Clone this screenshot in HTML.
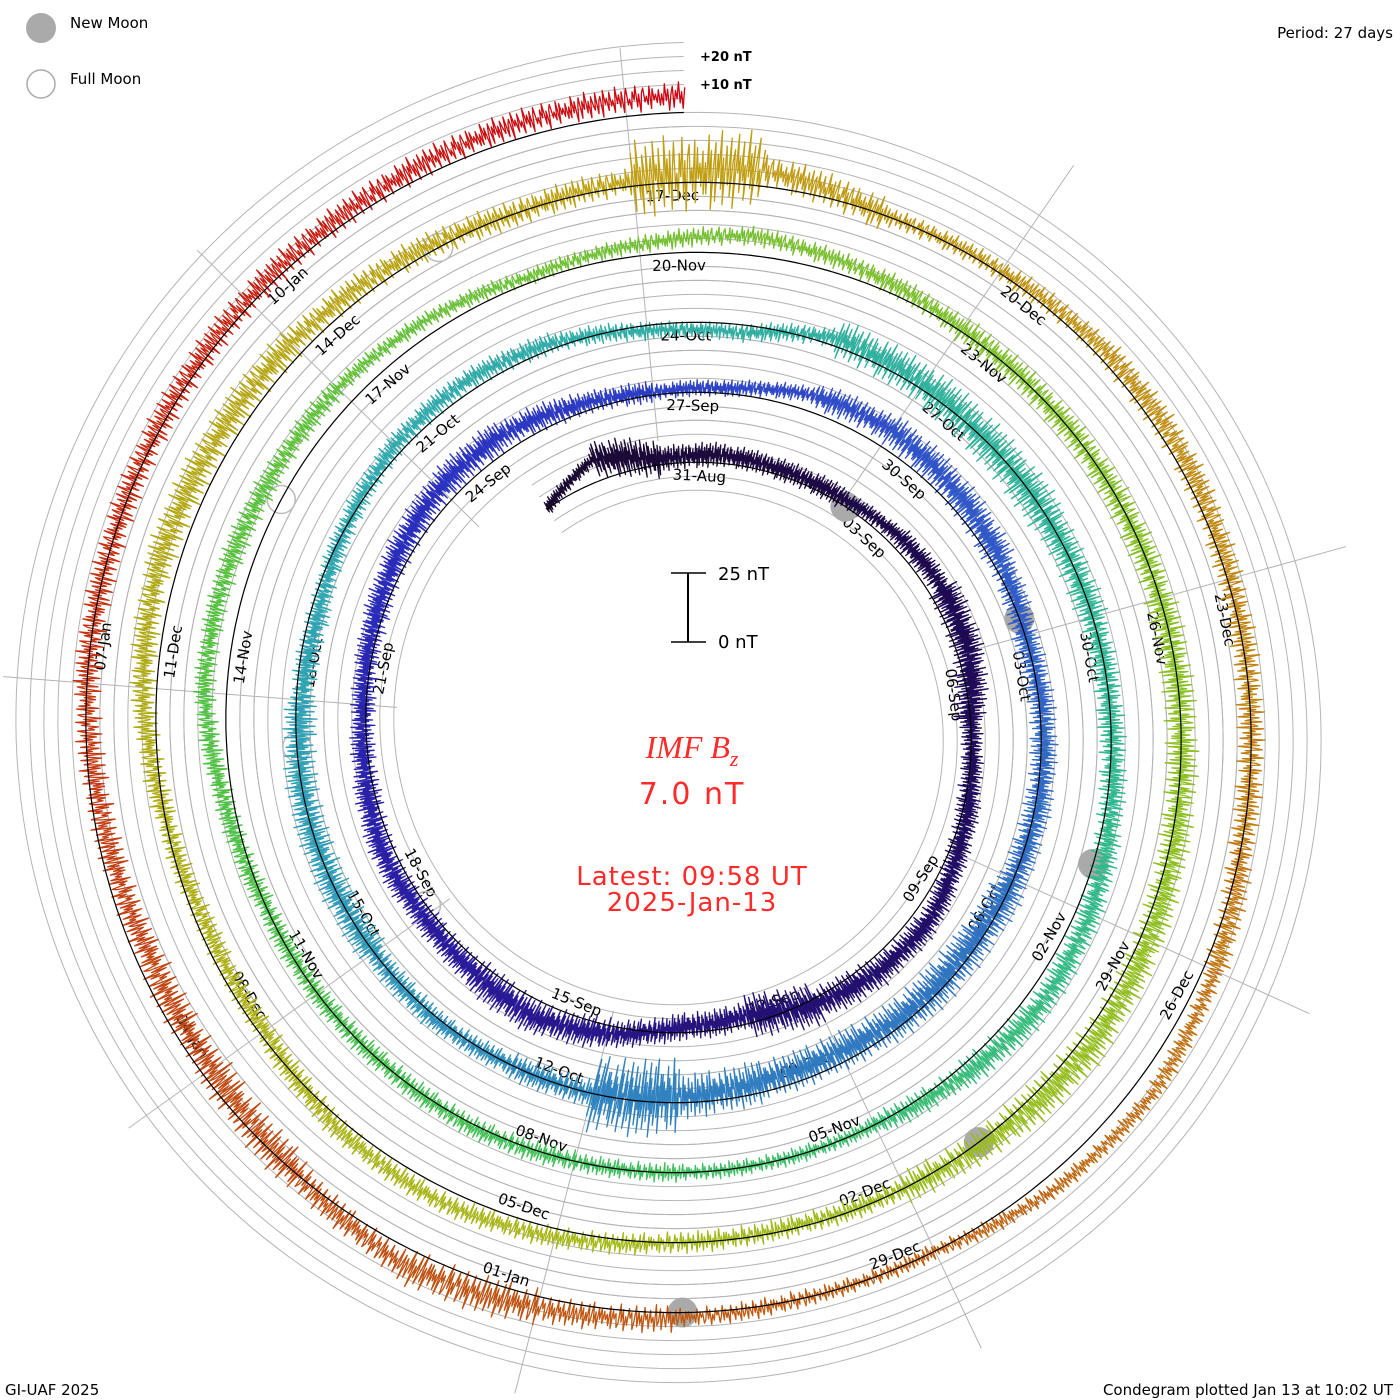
<!DOCTYPE html>
<html><head><meta charset="utf-8"><title>IMF Bz Condegram</title>
<style>
html,body{margin:0;padding:0;background:#fff;}
svg{display:block;}
text{font-family:"DejaVu Sans","Liberation Sans",sans-serif;}
</style></head>
<body>
<svg id="chart" width="1400" height="1400" viewBox="0 0 1400 1400" xmlns="http://www.w3.org/2000/svg">
  <g id="grid"></g>
  <g id="labels"></g>
  <g id="moons"></g>
  <g id="series"></g>
  <g id="base"></g>

  <g>
    <circle cx="41" cy="28" r="15" fill="#aaaaaa"/>
    <text x="70" y="28" font-size="15" fill="#000">New Moon</text>
    <circle cx="41" cy="84" r="14" fill="none" stroke="#aaaaaa" stroke-width="1.5"/>
    <text x="70" y="84" font-size="15" fill="#000">Full Moon</text>
  </g>
  <text x="1393" y="38" font-size="15" text-anchor="end">Period: 27 days</text>
  <text x="700" y="61" font-size="13" font-weight="bold">+20 nT</text>
  <text x="700" y="89" font-size="13" font-weight="bold">+10 nT</text>

  <g>
    <line x1="688" y1="573" x2="688" y2="642" stroke="#000" stroke-width="2"/>
    <line x1="671" y1="573" x2="706" y2="573" stroke="#000" stroke-width="1.5"/>
    <line x1="671" y1="642" x2="706" y2="642" stroke="#000" stroke-width="1.5"/>
    <text x="718" y="580" font-size="18">25 nT</text>
    <text x="718" y="648" font-size="18">0 nT</text>
  </g>
  <text x="692" y="758" font-size="32" fill="#ff2a2a" text-anchor="middle" font-style="italic" style="font-family:'Liberation Serif',serif">IMF B<tspan font-size="22" dy="8">z</tspan></text>
  <text x="692" y="804" font-size="30" fill="#ff2a2a" text-anchor="middle" letter-spacing="2">7.0 nT</text>
  <text x="692" y="885" font-size="26" fill="#ff2a2a" text-anchor="middle" letter-spacing="1">Latest: 09:58 UT</text>
  <text x="692" y="911" font-size="26" fill="#ff2a2a" text-anchor="middle" letter-spacing="1">2025-Jan-13</text>
  <text x="5" y="1395" font-size="15">GI-UAF 2025</text>
  <text x="1393" y="1395" font-size="15" text-anchor="end">Condegram plotted Jan 13 at 10:02 UT</text>
</svg>
<script>
// ---- data (days since 31-Aug 00:00 UT) ----
const startDay = -2;
const dailyMean = [0,8,2,3,2,2,4,5,4,0,1,3,6,5,2,-3,-2,3,6,4,3,4,2,1,2,4,6,6,3,1,2,6,7,5,3,0,1,1,0,-2,-2,-4,-4,-2,0,0,1,0,0,0,-2,-3,0,3,4,2,-2,-3,3,2,0,0,0,0,2,5,6,3,0,0,0,0,1,0,0,0,3,8,8,7,7,5,2,4,7,4,1,0,0,0,0,1,3,4,2,0,-1,0,3,5,3,-2,-3,0,5,7,6,5,3,0,2,6,0,1,3,3,1,0,0,4,7,5,0,0,2,4,6,0,-4,-5,-3,0,0,1,2,3,5,6];
const dailyRange = [5,14,9,8,8,6,8,12,12,8,9,9,10,12,16,10,10,12,13,10,10,10,9,9,10,11,12,10,8,6,6,10,12,12,10,10,10,11,14,15,14,14,16,28,10,8,9,12,12,12,9,8,8,8,8,7,6,7,14,15,15,12,10,10,10,10,11,9,6,6,7,8,8,8,8,8,8,8,9,8,6,6,6,7,7,8,10,10,11,12,12,12,12,14,12,8,8,8,8,8,9,8,8,9,10,12,12,10,10,10,28,12,7,8,10,10,10,10,10,7,6,6,6,7,10,14,10,14,12,10,10,10,10,10,10,10,10,10];
// recorded sub-daily fluctuation shape (normalised)
const subDailyShape = [0.2,-0.6,0.9,-0.3,0.5,-1,0.1,0.7,-0.8,0.4,-0.2,1,-0.5,0.3,-0.9,0.6,0,-0.4,0.8,-0.7,0.2,0.5,-1,0.9,-0.1,0.3,-0.6,0.7,-0.3,0.1,-0.8,1,-0.2,0.4,-0.5,0.6,-0.9,0.2,0.8,-0.4,0,-0.7,0.5,-0.1,0.9,-0.6,0.3,-1,0.4,0.7,-0.3,0.1,-0.5,0.8,-0.8,0.6,-0.2,0.2,-0.4,0.5,-0.6];
const newMoons = [3.08, 32.78, 62.53, 92.26, 121.94];
const fullMoons = [18.11, 47.48, 76.89, 106.38];
const labelDays = [0,3,6,9,12,15,18,21,24,27,30,33,36,39,42,45,48,51,54,57,60,63,66,69,72,75,78,81,84,87,90,93,96,99,102,105,108,111,114,117,120,123,126,129,132];
const labelText = ["31-Aug","03-Sep","06-Sep","09-Sep","12-Sep","15-Sep","18-Sep","21-Sep","24-Sep","27-Sep","30-Sep","03-Oct","06-Oct","09-Oct","12-Oct","15-Oct","18-Oct","21-Oct","24-Oct","27-Oct","30-Oct","02-Nov","05-Nov","08-Nov","11-Nov","14-Nov","17-Nov","20-Nov","23-Nov","26-Nov","29-Nov","02-Dec","05-Dec","08-Dec","11-Dec","14-Dec","17-Dec","20-Dec","23-Dec","26-Dec","29-Dec","01-Jan","04-Jan","07-Jan","10-Jan"];
const endDay = 135.415;

// ---- geometry ----
const CX = 686, CY = 730, R0 = 267.5, PITCH = 70, PERIOD = 27, T0 = 0.415, PXNT = 2.8;
const NS = "http://www.w3.org/2000/svg";
function ang(t){ return (t - T0) / PERIOD * 2 * Math.PI; }
function baseR(t){ return R0 + PITCH * (t - T0) / PERIOD; }
function pos(t, nt){ const a = ang(t), r = baseR(t) + nt * PXNT; return [CX + r * Math.sin(a), CY - r * Math.cos(a)]; }
function mk(tag, parent){ const e = document.createElementNS(NS, tag); parent.appendChild(e); return e; }

const colorStops = [[-2,[26,10,48]],[5,[30,10,80]],[12,[36,16,112]],[18,[42,28,160]],[24,[42,48,192]],[30,[48,80,200]],[36,[48,112,192]],[41,[48,128,192]],[45,[48,152,184]],[50,[48,168,176]],[56,[48,176,160]],[62,[48,184,144]],[68,[64,192,96]],[75,[80,192,64]],[82,[120,192,48]],[90,[144,192,32]],[96,[168,184,24]],[103,[176,168,16]],[108,[192,160,16]],[114,[192,136,16]],[120,[192,96,16]],[126,[192,72,16]],[132,[200,32,16]],[136,[208,0,16]]];
function colorAt(t){
  for (let i = 0; i < colorStops.length - 1; i++){
    const a = colorStops[i], b = colorStops[i+1];
    if (t <= b[0]){ const f = Math.max(0,(t - a[0]) / (b[0] - a[0]));
      const c = a[1].map((v,j)=>Math.round(v + (b[1][j]-v)*f)); return `rgb(${c[0]},${c[1]},${c[2]})`; }
  }
  return "rgb(208,0,16)";
}

// ---- grid spirals ----
const grid = document.getElementById('grid');
for (let k = -2; k <= 5; k++){
  if (k === 0) continue;
  let d = "";
  for (let t = startDay; t <= endDay; t += 0.1){
    const a = ang(t), r = baseR(t) + k * 14;
    d += (d ? "L" : "M") + (CX + r*Math.sin(a)).toFixed(1) + "," + (CY - r*Math.cos(a)).toFixed(1);
  }
  const p = mk('path', grid);
  
  
  p.setAttribute('d', d); p.setAttribute('fill', 'none'); p.setAttribute('stroke', '#b4b4b4'); p.setAttribute('stroke-width', '1');
}
for (let j = 0; j < 9; j++){
  const a = ang(3 * j);
  const l = mk('line', grid);
  
  
  l.setAttribute('x1', CX + 290*Math.sin(a)); l.setAttribute('y1', CY - 290*Math.cos(a));
  l.setAttribute('x2', CX + 685*Math.sin(a)); l.setAttribute('y2', CY - 685*Math.cos(a));
  l.setAttribute('stroke', '#b4b4b4'); l.setAttribute('stroke-width', '1');
}

// ---- date labels ----
const lg = document.getElementById('labels');
labelDays.forEach((td, i) => {
  const rl = baseR(td) - 12;
  const am = ang(td) + 38 / rl;
  let deg = am * 180 / Math.PI;
  const n = ((deg % 360) + 360) % 360;
  let rot = deg;
  if (n > 90 && n < 270) rot = deg - 180;
  const x = CX + rl * Math.sin(am), y = CY - rl * Math.cos(am);
  const tx = mk('text', lg);
  
  
  tx.setAttribute('x', x.toFixed(1)); tx.setAttribute('y', y.toFixed(1));
  tx.setAttribute('text-anchor', 'middle'); tx.setAttribute('dominant-baseline', 'central');
  tx.setAttribute('font-size', '15');
  tx.setAttribute('transform', `rotate(${rot.toFixed(2)} ${x.toFixed(1)} ${y.toFixed(1)})`);
  tx.textContent = labelText[i];
});

// ---- moons ----
const mg = document.getElementById('moons');
newMoons.forEach(t => {
  const [x, y] = pos(t, 0);
  const c = mk('circle', mg);
  
  
  c.setAttribute('cx', x); c.setAttribute('cy', y); c.setAttribute('r', 15); c.setAttribute('fill', '#aaaaaa');
});
fullMoons.forEach(t => {
  const [x, y] = pos(t, 0);
  const c = mk('circle', mg);
  
  
  c.setAttribute('cx', x); c.setAttribute('cy', y); c.setAttribute('r', 14); c.setAttribute('fill', 'none'); c.setAttribute('stroke', '#bbbbbb'); c.setAttribute('stroke-width', '1.5');
});

// ---- series ----
const sg = document.getElementById('series');
const SPD = 96;
let prev = null;
for (let i = 0; i < dailyMean.length; i++){
  const day = startDay + i;
  const nextMean = i + 1 < dailyMean.length ? dailyMean[i+1] : dailyMean[i];
  let d = prev ? "M" + prev : "";
  for (let k = 0; k <= SPD; k++){
    const t = day + k / SPD;
    if (t > endDay) break;
    const f = k / SPD;
    const m = dailyMean[i] * (1 - f) + nextMean * f;
    const s = subDailyShape[(i * SPD + k) % subDailyShape.length];
    const v = m + dailyRange[i] * 0.5 * s;
    const [x, y] = pos(t, v);
    const pt = x.toFixed(1) + "," + y.toFixed(1);
    d += (d ? "L" : "M") + pt;
    prev = pt;
  }
  const p = mk('path', sg);
  
  
  p.setAttribute('d', d); p.setAttribute('fill', 'none'); p.setAttribute('stroke', colorAt(day + 0.5));
  p.setAttribute('stroke-width', '1.3'); p.setAttribute('stroke-linejoin', 'round');
}

// ---- baseline ----
const bg = document.getElementById('base');
let bd = "";
for (let t = startDay; t <= endDay; t += 0.05){
  const [x, y] = pos(t, 0);
  bd += (bd ? "L" : "M") + x.toFixed(1) + "," + y.toFixed(1);
}
const bp = mk('path', bg);


bp.setAttribute('d', bd); bp.setAttribute('fill', 'none'); bp.setAttribute('stroke', '#000'); bp.setAttribute('stroke-width', '1.2');
</script>
</body></html>
